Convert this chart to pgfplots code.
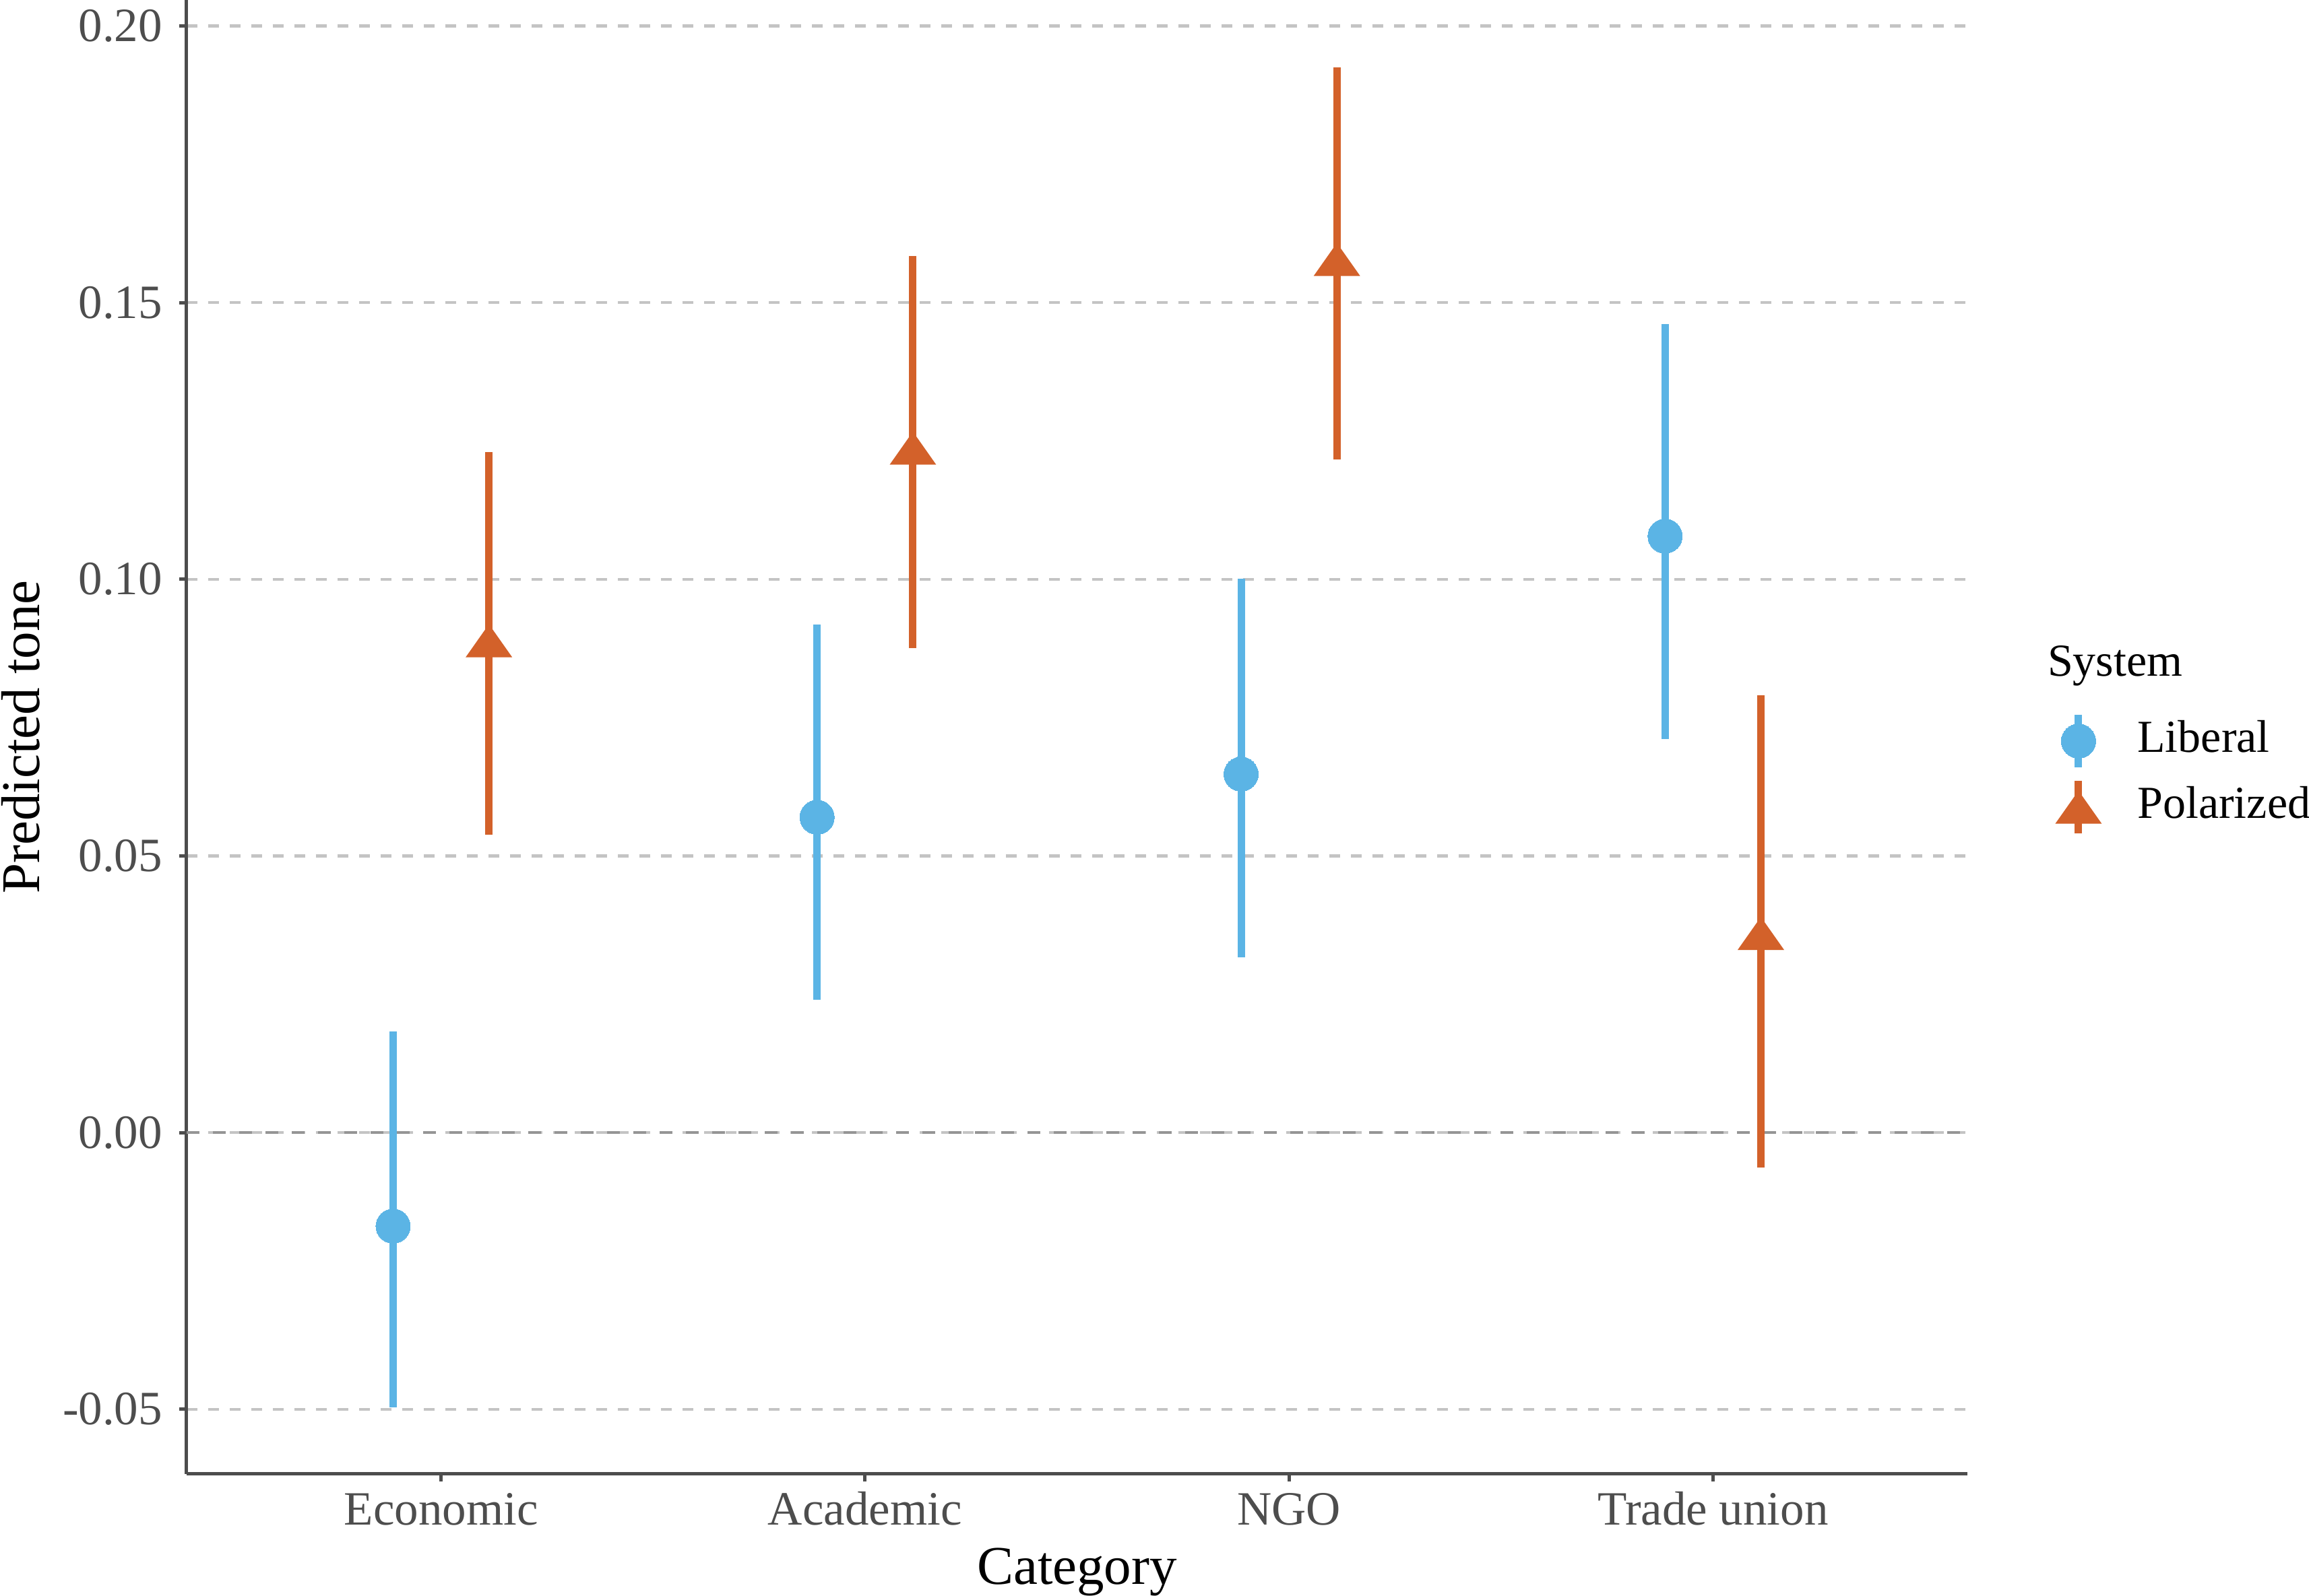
\documentclass[border=0pt]{standalone}
\usepackage{fontspec}
\setmainfont{Liberation Serif}
\usepackage{pgfplots}
\usepackage{pgfplotstable}
\pgfplotsset{compat=1.18}
\definecolor{libblue}{HTML}{5BB4E5}
\definecolor{polorange}{HTML}{D3612A}
\definecolor{axgray}{HTML}{4D4D4D}
\definecolor{gridgray}{HTML}{C4C4C4}
\definecolor{zerogray}{HTML}{959595}
\pgfdeclareplotmark{ftri}{%
  \pgfpathmoveto{\pgfqpoint{0pt}{2.45pt}}%
  \pgfpathlineto{\pgfqpoint{3.45pt}{-2.45pt}}%
  \pgfpathlineto{\pgfqpoint{-3.45pt}{-2.45pt}}%
  \pgfpathclose\pgfusepathqfill}

\pgfplotstableread{
x     y       ep      em
0.887 -0.0169 0.0352  0.0328
1.887 0.0570  0.0348  0.0330
2.887 0.0648  0.0353  0.0331
3.887 0.1078  0.0383  0.0367
}\liberal
\pgfplotstableread{
x     y       ep      em
1.113 0.0889  0.0341  0.0351
2.113 0.1237  0.0347  0.0361
3.113 0.1578  0.0347  0.0361
4.113 0.0360  0.0430  0.0423
}\polarized

\begin{document}
\begin{tikzpicture}
\useasboundingbox (-27.7pt,-18.1pt) rectangle (315.0pt,218.8pt);
\begin{axis}[
  scale only axis,
  width=264.3pt, height=218.8pt,
  xmin=0.4, xmax=4.6,
  ymin=-0.0617, ymax=0.2047,
  axis x line=bottom, axis y line=left,
  axis line style={-, draw=axgray, line width=0.5pt},
  tick style={draw=axgray, line width=0.5pt},
  tick align=outside,
  major tick length=1.1pt,
  xtick={1,2,3,4},
  xticklabels={Economic,Academic,NGO,Trade union},
  ytick={-0.05,0,0.05,0.10,0.15,0.20},
  yticklabels={-0.05,0.00,0.05,0.10,0.15,0.20},
  ymajorgrids,
  major grid style={draw=gridgray, line width=0.45pt, dash pattern=on 1.6pt off 1.6pt},
  yticklabel style={font=\fontsize{7.1pt}{8pt}\selectfont, text=axgray, anchor=east, inner sep=0pt, xshift=-2.3pt},
  xticklabel style={font=\fontsize{7.1pt}{8pt}\selectfont, text=axgray, anchor=base, inner sep=0pt, yshift=-6.5pt},
  xlabel={Category},
  ylabel={Predicted tone},
  label style={font=\fontsize{8.1pt}{9pt}\selectfont},
  xlabel style={at={(axis description cs:0.5,-0.07495)}, anchor=base, inner sep=0pt},
  ylabel style={at={(axis description cs:-0.08286,0.5)}, anchor=base, inner sep=0pt, rotate=0},
  error bars/y dir=both,
  error bars/y explicit,
  error bars/error mark=none,
  error bars/error bar style={line width=1.1pt},
  legend style={draw=none, fill=none, at={(axis description cs:1.0486,0.5215)}, anchor=north west,
    inner sep=0pt, font=\fontsize{6.8pt}{7.5pt}\selectfont, row sep=-0.4pt,
    /tikz/every odd column/.append style={column sep=3.3pt}},
  legend cell align=left,
  legend image code/.code={%
    \draw[#1, mark=none, line width=1.1pt] (0pt,-3.9pt) -- (0pt,3.9pt);
    \draw[#1] plot coordinates {(0pt,0pt)};
  },
]
\addplot[zerogray, line width=0.45pt, dash pattern=on 1.9pt off 2.0pt, forget plot] coordinates {(0.4,0) (4.6,0)};
\addplot[libblue, only marks, mark=*, mark size=2.55pt, mark options={line width=0pt}]
  table[x=x, y=y, y error plus=ep, y error minus=em] {\liberal};
\addlegendentry{Liberal}
\addplot[polorange, only marks, mark=ftri]
  table[x=x, y=y, y error plus=ep, y error minus=em] {\polarized};
\addlegendentry{Polarized}
\end{axis}
\node[anchor=base west, inner sep=0pt, font=\fontsize{6.8pt}{7.5pt}\selectfont] at (276.0pt,118.4pt) {System};
\end{tikzpicture}
\end{document}
